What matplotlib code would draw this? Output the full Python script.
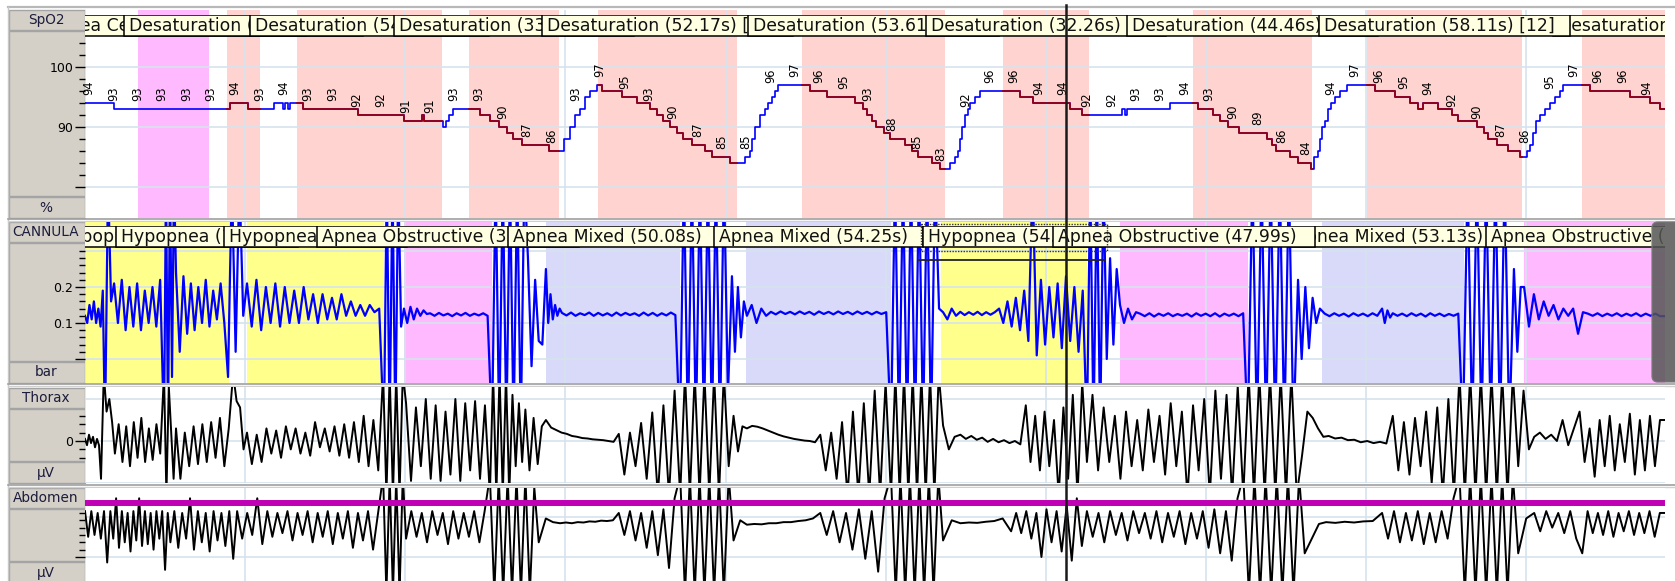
import numpy as np
import matplotlib.pyplot as plt
from matplotlib.patches import Rectangle, FancyBboxPatch
from matplotlib.textpath import TextPath
from matplotlib.font_manager import FontProperties

plt.rcParams['font.family'] = ['DejaVu Sans']

# ---------------- data ----------------
window_s = 592.0          # seconds shown, grid every 60 s
cursor_t = 367.6

# SpO2 step trace: change times (s) and values (%)
spo2_t = [0, 10.9, 54.3, 61.1, 70.8, 74.2, 74.9, 76.1, 76.8, 81.7,
          102.3, 119.5, 126.3, 127.0, 134.1, 135.2, 136.3, 137.9, 148.0, 151.7,
          155.1, 158.1, 160.4, 163.7, 173.8, 179.5, 181.7, 183.6, 185.5, 187.3,
          189.2, 191.8, 193.7, 201.2, 206.8, 211.7, 214.3, 216.6, 219.2, 221.8,
          224.1, 227.4, 232.3, 234.9, 241.7, 247.3, 249.2, 249.9, 251.0, 252.9,
          254.8, 255.9, 257.4, 258.5, 259.6, 271.6, 278.0, 288.5, 291.5, 293.0,
          294.9, 296.4, 299.4, 301.6, 307.2, 309.9, 312.1, 317.3, 320.3, 324.1,
          326.0, 327.1, 327.8, 328.6, 329.7, 330.8, 331.6, 333.5, 335.3, 350.3,
          355.2, 369.0, 373.5, 388.5, 389.7, 390.4, 406.5, 417.0, 422.6, 425.2,
          428.2, 432.4, 442.9, 444.7, 446.2, 451.5, 454.5, 459.3, 460.5, 462.0,
          462.7, 463.5, 464.6, 465.7, 466.8, 468.3, 470.2, 472.8, 483.3, 490.8,
          496.4, 499.4, 501.3, 506.9, 512.2, 514.4, 521.5, 524.2, 525.7, 529.1,
          533.2, 537.7, 540.3, 541.5, 542.6, 543.7, 545.2, 547.1, 549.0, 550.8,
          552.7, 553.8, 564.0, 579.0, 586.5, 590.3]
spo2_v = [94, 93, 94, 93, 94, 93, 94, 93, 94, 93,
          92, 91, 92, 91, 90, 91, 92, 93, 92, 91,
          90, 89, 88, 87, 86, 88, 90, 92, 93, 95,
          96, 97, 96, 95, 94, 93, 92, 91, 90, 89,
          88, 87, 86, 85, 84, 85, 86, 88, 90, 92,
          93, 94, 95, 96, 97, 96, 95, 94, 93, 92,
          91, 90, 89, 88, 87, 86, 85, 84, 83, 84,
          85, 86, 88, 90, 92, 93, 94, 95, 96, 95,
          94, 93, 92, 93, 92, 93, 94, 93, 92, 91,
          90, 89, 88, 87, 86, 85, 84, 83, 85, 86,
          88, 90, 91, 93, 94, 95, 96, 97, 96, 95,
          94, 93, 94, 93, 92, 91, 90, 89, 88, 87,
          86, 85, 86, 87, 89, 91, 92, 93, 94, 95,
          96, 97, 96, 95, 94, 93]

# numbers printed over the SpO2 trace, one every 9.12 s
spo2_label_start = 1.5
spo2_label_step = 9.12
spo2_label_vals = [94, 93, 93, 93, 93, 93, 94, 93, 94, 93, 93, 92, 92, 91, 91,
                   93, 93, 90, 87, 86, 93, 97, 95, 93, 90, 87, 85, 85, 96, 97,
                   96, 95, 93, 88, 85, 83, 92, 96, 96, 94, 94, 92, 92, 93, 93,
                   94, 93, 90, 89, 86, 84, 94, 97, 96, 95, 94, 92, 90, 87, 86,
                   95, 97, 96, 96, 94]

# scored events, SpO2 row (the bracket holds the drop in %)
spo2_ev_type = ["Apnea Central"] + ["Desaturation"] * 9
spo2_ev_start = [19.9, 53.2, 79.4, 143.9, 192.2, 268.6, 343.9, 415.1, 480.3, 560.9]
spo2_ev_dur = [26.62, 12.41, 54.38, 33.72, 52.17, 53.61, 32.26, 44.46, 58.11, 72.20]
spo2_ev_tag = [10, 1, 3, 7, 13, 14, 4, 11, 12, 10]
spo2_ev_raised = [8]

# scored events, CANNULA row
cann_ev_type = ["Hypopnea", "Hypopnea", "Hypopnea", "Apnea Obstructive", "Apnea Mixed",
                "Apnea Mixed", "Hypopnea", "Apnea Obstructive", "Apnea Mixed",
                "Apnea Obstructive"]
cann_ev_start = [-10.0, 37.5, 60.7, 119.5, 172.7, 247.7, 320.7, 387.8, 463.5, 539.2]
cann_ev_dur = [64.00, 16.10, 51.30, 33.04, 50.08, 54.25, 54.71, 47.99, 53.13, 69.62]
cann_ev_raised = [7]
cann_ev_selected = 6

# waveforms: (start s, end s, successive values)
cannula_segments = [
    (0.0, 7.5, [0.12, 0.10, 0.15, 0.11, 0.16, 0.10, 0.14, 0.09, 0.19]),
    (7.5, 10.9, [-0.2, 0.5, 0.16]),
    (10.9, 29.6, [0.21, 0.10, 0.22, 0.08, 0.20, 0.09, 0.21, 0.08, 0.19, 0.10, 0.20, 0.09, 0.22]),
    (29.6, 34.1, [-0.2, 0.5, -0.2, 0.5, -0.05, 0.5]),
    (34.1, 53.6, [0.24, 0.02, 0.23, 0.07, 0.21, 0.08, 0.20, 0.10, 0.22, 0.09, 0.19, 0.11, 0.21, 0.10]),
    (53.6, 60.7, [-0.05, 0.5, 0.02, 0.5, 0.12]),
    (60.7, 112.0, [0.21, 0.09, 0.22, 0.08, 0.20, 0.10, 0.21, 0.09, 0.20, 0.10, 0.19, 0.10,
                   0.20, 0.11, 0.18, 0.10, 0.18, 0.11, 0.17, 0.11, 0.18, 0.12, 0.16, 0.12,
                   0.15, 0.12, 0.15, 0.13, 0.14]),
    (112.0, 119.5, [-0.2, 0.5, -0.2, 0.5, -0.2, 0.5, 0.09]),
    (119.5, 129.3, [0.14, 0.10, 0.145, 0.11, 0.14, 0.12, 0.135, 0.125]),
    (129.3, 152.5, [0.127, 0.12, 0.128, 0.121, 0.126, 0.119, 0.127, 0.121, 0.128, 0.12,
                    0.126, 0.121, 0.127, 0.12]),
    (152.5, 172.7, [-0.2, 0.5, -0.2, 0.5, -0.2, 0.5, -0.2, 0.5, -0.2, 0.5, 0.28, -0.02, 0.22, 0.05, 0.04]),
    (172.7, 178.7, [0.25, 0.10, 0.18, 0.11, 0.15, 0.12, 0.14]),
    (178.7, 222.9, [0.128, 0.121, 0.129, 0.12, 0.127, 0.122, 0.129, 0.12, 0.128, 0.121,
                    0.127, 0.12, 0.129, 0.121, 0.128, 0.122, 0.127, 0.12, 0.129, 0.121,
                    0.128, 0.12, 0.127, 0.121, 0.129, 0.122]),
    (222.9, 242.4, [-0.2, 0.5, -0.2, 0.5, -0.2, 0.5, -0.2, 0.5, -0.2, 0.5, -0.2, 0.5, -0.1]),
    (242.4, 248.0, [0.23, 0.02, 0.20, 0.06, 0.16]),
    (248.0, 302.0, [0.12, 0.15, 0.10, 0.14, 0.12, 0.131, 0.124, 0.132, 0.125, 0.131, 0.124,
                    0.132, 0.125, 0.131, 0.123, 0.132, 0.125, 0.131, 0.124, 0.132, 0.125,
                    0.131, 0.124, 0.132, 0.125, 0.131, 0.124, 0.131, 0.125, 0.13]),
    (302.0, 321.5, [-0.2, 0.5, -0.2, 0.5, -0.2, 0.5, -0.2, 0.5, -0.2, 0.5, -0.2, 0.5, 0.14]),
    (321.5, 342.5, [0.13, 0.11, 0.14, 0.12, 0.131, 0.122, 0.13, 0.123, 0.131, 0.122,
                    0.13, 0.123, 0.13]),
    (342.5, 375.4, [0.14, 0.10, 0.16, 0.09, 0.17, 0.08, 0.19, 0.05, 0.5, 0.01, 0.22, 0.04,
                    0.20, 0.06, 0.21, 0.03, 0.23, 0.05, 0.20, 0.02, 0.19]),
    (375.4, 387.8, [-0.2, 0.5, -0.2, 0.5, -0.2, 0.5, 0.0, 0.28, 0.04, 0.25]),
    (387.8, 395.3, [0.15, 0.10, 0.14, 0.11, 0.13]),
    (395.3, 435.7, [0.126, 0.119, 0.127, 0.118, 0.126, 0.12, 0.127, 0.119, 0.125, 0.12,
                    0.126, 0.118, 0.127, 0.12, 0.126, 0.119, 0.127, 0.118, 0.126, 0.12,
                    0.126, 0.119, 0.127]),
    (435.7, 454.5, [-0.2, 0.5, -0.2, 0.5, -0.2, 0.5, -0.2, 0.5, -0.2, 0.5, -0.2]),
    (454.5, 462.7, [0.22, 0.0, 0.20, 0.03, 0.17, 0.10]),
    (462.7, 486.0, [0.14, 0.126, 0.119, 0.127, 0.12, 0.126, 0.118, 0.127, 0.12, 0.126,
                    0.119, 0.127, 0.12]),
    (486.0, 490.0, [0.14, 0.10, 0.135, 0.115]),
    (490.0, 516.3, [0.127, 0.12, 0.126, 0.119, 0.127, 0.12, 0.126, 0.118, 0.127, 0.12,
                    0.126, 0.119, 0.125, 0.12, 0.126]),
    (516.3, 535.4, [-0.2, 0.5, -0.2, 0.5, -0.2, 0.5, -0.2, 0.5, -0.2, 0.5, -0.2]),
    (535.4, 539.2, [0.25, 0.02, 0.20]),
    (539.2, 563.1, [0.20, 0.09, 0.18, 0.11, 0.16, 0.12, 0.15, 0.11, 0.14, 0.12, 0.14, 0.07, 0.13]),
    (563.1, 592.0, [0.126, 0.12, 0.127, 0.119, 0.126, 0.12, 0.127, 0.119, 0.126, 0.12,
                    0.127, 0.119, 0.126, 0.12, 0.126, 0.119]),
]

thorax_segments = [
    (0.0, 6.0, [0.05, -0.1, 0.15, -0.05, 0.10, -0.15, 0.05, -0.1]),
    (6.0, 11.2, [-0.9, 1.6, 0.7, 1.0, 0.45]),
    (11.2, 29.6, [-0.3, 0.4, -0.5, 0.35, -0.6, 0.45, -0.4, 0.55, -0.5, 0.3, -0.45, 0.4, -0.3]),
    (29.6, 34.1, [1.6, -1.3, 1.3, 0.2, -0.9]),
    (34.1, 55.5, [0.3, -0.9, 0.2, -0.6, 0.35, -0.55, 0.4, -0.5, 0.45, -0.4, 0.55, -0.6, 0.3]),
    (55.5, 60.7, [1.6, 0.95, 0.8, -0.2]),
    (60.7, 111.7, [0.2, -0.55, 0.15, -0.5, 0.3, -0.3, 0.25, -0.4, 0.35, -0.2, 0.3, -0.3, 0.2,
                   -0.35, 0.45, -0.15, 0.3, -0.25, 0.35, -0.35, 0.4, -0.4, 0.45, -0.5, 0.6,
                   -0.6, 0.5, -0.7]),
    (111.7, 120.3, [1.6, -1.3, 1.6, -1.3, 1.6, -1.3, 1.6]),
    (120.3, 151.7, [0.9, -0.95, 0.8, -0.6, 1.0, -0.9, 0.85, -0.95, 0.7, -0.8, 1.0, -0.95, 0.9,
                    -0.7, 0.95, -0.9, 0.85]),
    (151.7, 165.0, [-1.3, 1.6, -1.3, 1.6, -1.3, 1.6, -1.3, 1.1, -0.6, 0.9, -0.5]),
    (165.0, 172.7, [0.75, -0.7, 0.55, -0.55, 0.35]),
    (172.7, 200.0, [0.5, 0.32, 0.26, 0.2, 0.17, 0.12, 0.1, 0.07, 0.06, 0.04, 0.03, 0.02, 0.0, -0.02]),
    (200.0, 223.0, [0.17, -0.8, 0.2, -0.6, 0.43, -0.9, 0.68, -1.3, 0.85, -1.3, 1.2]),
    (223.0, 243.0, [-1.3, 1.6, -1.3, 1.6, -1.3, 1.6, -1.3, 1.6, -1.3, 1.6, -0.6]),
    (243.0, 248.0, [0.6, -0.25, 0.35]),
    (248.0, 275.5, [0.3, 0.36, 0.34, 0.3, 0.25, 0.2, 0.15, 0.11, 0.08, 0.05, 0.03, 0.01, 0.0, -0.03]),
    (275.5, 302.0, [0.15, -0.7, 0.2, -0.9, 0.45, -1.3, 0.7, -1.3, 0.9, -1.3, 1.2, -1.3, 1.4]),
    (302.0, 321.5, [-1.3, 1.6, -1.3, 1.6, -1.3, 1.6, -1.3, 1.6, -1.3, 1.6, -1.3, 1.6]),
    (321.5, 328.0, [0.37, -0.2, 0.1]),
    (328.0, 352.5, [0.15, 0.05, 0.12, 0.03, 0.08, -0.02, 0.05, -0.03, 0.02, -0.05, 0.0, -0.08]),
    (352.5, 375.4, [0.85, -0.5, 0.6, -0.7, 0.7, -0.6, 0.5, -1.3, 0.8, -0.9, 1.1, -1.3, 1.4]),
    (375.4, 434.0, [-0.5, 1.1, -0.7, 0.8, -0.5, 0.6, -0.9, 0.7, -0.6, 0.5, -0.7, 0.75, -0.5,
                    0.6, -0.8, 0.9, -0.6, 0.7, -1.3, 0.85, -0.7, 1.0, -1.3, 1.2, -0.9, 1.1,
                    -1.3, 1.3]),
    (434.0, 456.0, [-1.3, 1.6, -1.3, 1.6, -1.3, 1.6, -1.3, 1.6, -1.3, 1.6, -1.3]),
    (456.0, 466.0, [-0.35, 0.7, 0.55, 0.3, 0.1]),
    (466.0, 490.0, [0.12, 0.06, 0.08, 0.02, 0.03, -0.03, 0.0, -0.05, -0.02, -0.06]),
    (490.0, 515.0, [0.6, -0.7, 0.45, -0.8, 0.55, -0.6, 0.7, -1.0, 0.8, -1.3, 1.0, -1.3]),
    (515.0, 539.0, [1.6, -1.3, 1.6, -1.3, 1.6, -1.3, 1.6, -1.3, 1.6, -1.3, 1.6, -0.6]),
    (539.0, 543.0, [1.2, -0.2]),
    (543.0, 560.0, [0.1, 0.2, 0.05, 0.15, 0.0, 0.5, -0.1, 0.3]),
    (560.0, 592.0, [0.7, -0.5, 0.3, -0.85, 0.5, -0.6, 0.6, -0.7, 0.4, -0.5, 0.65, -0.8, 0.5,
                    -0.7, 0.6, -0.6, 0.5]),
]

abdomen_segments = [
    (0.0, 9.5, [0.25, -0.45, 0.25, -0.4, 0.2, -0.5, 0.25, -1.15]),
    (9.5, 30.0, [0.25, -0.5, 0.6, -0.75, 0.25, -0.6, 0.2, -0.85, 0.25, -0.55, 0.6, -0.7, 0.25,
                 -0.65, 0.2, -0.8, 0.25, -0.5, 0.25]),
    (30.0, 32.0, [-1.35, 0.2]),
    (32.0, 57.0, [-0.6, 0.25, -0.75, 0.2, -0.5, 0.6, -0.8, 0.25, -0.6, 0.2, -0.85, 0.25, -0.55,
                  0.2, -0.7, 0.25, -1.05]),
    (57.0, 111.7, [0.25, -0.5, 0.2, -0.4, 0.6, -0.65, 0.25, -0.45, 0.2, -0.35, 0.25, -0.55, 0.2,
                   -0.4, 0.25, -0.6, 0.2, -0.45, 0.25, -0.65, 0.2, -0.5, 0.25, -0.75, 0.2,
                   -0.55, 0.25, -0.8, 0.2]),
    (111.7, 120.3, [1.2, -2.0, 1.2, -2.0, 1.2, -2.0, 1.2]),
    (120.3, 151.7, [-0.5, 0.25, -0.45, 0.2, -0.6, 0.25, -0.4, 0.2, -0.65, 0.25, -0.5, 0.2,
                    -0.45, 0.25, -0.6, 0.25]),
    (151.7, 170.0, [1.2, -2.0, 1.2, -2.0, 1.2, -2.0, 1.2, -2.0, 1.2, -2.0, 0.9]),
    (170.0, 178.0, [-0.6, 0.05, -0.05]),
    (178.0, 200.0, [-0.08, -0.06, -0.08, -0.05, -0.06, -0.03, -0.04, -0.01, -0.02, 0.0]),
    (200.0, 223.0, [0.2, -0.4, 0.25, -0.55, 0.2, -0.75, 0.25, -0.95, 0.3, -1.3, 0.6]),
    (223.0, 243.0, [1.2, -2.0, 1.2, -2.0, 1.2, -2.0, 1.2, -2.0, 1.2, -2.0, 1.2]),
    (243.0, 248.0, [-0.55, 0.0]),
    (248.0, 275.5, [-0.12, -0.1, -0.11, -0.08, -0.08, -0.05, -0.05, -0.02, 0.0, 0.05]),
    (275.5, 302.0, [0.2, -0.4, 0.25, -0.6, 0.2, -0.8, 0.3, -1.05, 0.25, -1.4, 0.6]),
    (302.0, 321.5, [1.2, -2.0, 1.2, -2.0, 1.2, -2.0, 1.2, -2.0, 1.2, -2.0, 1.2]),
    (321.5, 328.0, [-0.55, 0.0]),
    (328.0, 347.0, [-0.08, -0.06, -0.07, -0.04, -0.02, 0.05]),
    (347.0, 375.4, [-0.3, 0.2, -0.35, 0.25, -0.5, 0.2, -1.0, 0.3, -0.6, 0.25, -0.85, 0.4, -1.1,
                    0.6, -0.7]),
    (375.4, 434.0, [0.25, -0.45, 0.2, -0.6, 0.25, -0.4, 0.2, -0.55, 0.25, -0.35, 0.2, -0.5,
                    0.25, -0.6, 0.2, -0.45, 0.25, -0.65, 0.2, -0.5, 0.25, -0.75, 0.3, -0.9,
                    0.25, -1.1, 0.6]),
    (434.0, 457.0, [1.2, -2.0, 1.2, -2.0, 1.2, -2.0, 1.2, -2.0, 1.2, -2.0, 1.2]),
    (457.0, 465.0, [-0.9, -0.5, -0.1]),
    (465.0, 486.0, [-0.05, -0.07, -0.04, -0.06, -0.03, -0.02]),
    (486.0, 515.0, [0.2, -0.5, 0.25, -0.6, 0.2, -0.55, 0.25, -0.65, 0.2, -0.6, 0.25, -0.5, 0.6]),
    (515.0, 537.0, [1.2, -2.0, 1.2, -2.0, 1.2, -2.0, 1.2, -2.0, 1.2, -2.0, 1.2]),
    (537.0, 543.0, [-0.9, 0.05]),
    (543.0, 561.0, [0.2, -0.3, 0.25, -0.2, 0.2, -0.35, 0.25, -0.5]),
    (561.0, 563.0, [-0.9]),
    (563.0, 592.0, [0.25, -0.35, 0.2, -0.4, 0.25, -0.45, 0.2, -0.3, 0.25, -0.4, 0.2, -0.35,
                    0.25, -0.45, 0.2]),
]
abdomen_marker_level = 0.47

# ---------------- styling / layout ----------------
ev_colors = {"Desaturation": "#FFD4D0", "Hypopnea": "#FFFF8C",
             "Apnea Obstructive": "#FFB9FF", "Apnea Central": "#FFB9FF",
             "Apnea Mixed": "#D9D9F9"}
grid_c = "#D5E3EE"
panel_c = "#D4D0C8"

W, H = 1675, 581
X0, X1 = 85, 1665
PXS = (X1 - X0) / window_s

fig = plt.figure(figsize=(W / 100, H / 100), dpi=100)
fig.patch.set_facecolor("white")


def rect(x0, y0, x1, y1):
    return [x0 / W, 1 - y1 / H, (x1 - x0) / W, (y1 - y0) / H]


def px(t):
    return X0 + t * PXS


def build(segments):
    ts, vs = [], []
    for t0, t1, vals in segments:
        ts.extend(np.linspace(t0, t1, len(vals), endpoint=False))
        vs.extend(vals)
    ts.append(window_s)
    vs.append(vs[-1])
    return np.array(ts), np.array(vs)


# background chrome (label column, separators)
bg = fig.add_axes([0, 0, 1, 1], zorder=-5)
bg.set_xlim(0, W)
bg.set_ylim(H, 0)
bg.axis("off")

panels = [("SpO2", "%", 10, 218), ("CANNULA", "bar", 222, 383),
          ("Thorax", "\u03bcV", 388, 483), ("Abdomen", "\u03bcV", 488, 583)]
for name, unit, y0, y1 in panels:
    for a, b in [(y0, y0 + 20), (y0 + 21, y1 - 22), (y1 - 21, y1)]:
        bg.add_patch(Rectangle((9, a), 76, b - a, fc=panel_c, ec="#A4A4A4", lw=1))
    bg.text(46, y0 + 10, name, ha="center", va="center", fontsize=9.8, color="#1c1c3c")
    bg.text(46, y1 - 10.5, unit, ha="center", va="center", fontsize=9.8, color="#1c1c3c")
bg.plot([8, W], [7, 7], color="#B8B8B8", lw=1.6)
bg.plot([8, 8], [7, H], color="#C8C8C8", lw=1)
for y in [219.5, 385, 485.5]:
    bg.plot([8, W], [y - 1, y - 1], color="#A0A0A0", lw=1.2)
    bg.plot([8, W], [y + 1, y + 1], color="#D0D0D0", lw=1)


def make_panel(y0, y1, ylim, grid_y, major, minor, labels):
    ax = fig.add_axes(rect(X0, y0, X1, y1))
    ax.set_xlim(0, window_s)
    ax.set_ylim(*ylim)
    ax.set_facecolor("white")
    for s in ax.spines.values():
        s.set_visible(False)
    ax.set_xticks([])
    ax.set_yticks(major)
    ax.set_yticklabels(labels)
    ax.set_yticks(minor, minor=True)
    ax.tick_params(axis="y", which="major", length=7.5, width=1, pad=1, labelsize=9)
    ax.tick_params(axis="y", which="minor", length=4.5, width=1)
    for g in np.arange(0, window_s, 60):
        ax.axvline(g, color=grid_c, lw=1.2, zorder=1)
    for g in grid_y:
        ax.axhline(g, color=grid_c, lw=1.2, zorder=1)
    return ax


ax_spo2 = make_panel(10, 218, (74.83, 109.5), [80, 90, 100], [80, 90, 100],
                     np.arange(80, 105, 2), ["", "90", "100"])
ax_can = make_panel(222, 383, (-0.0667, 0.3806), [0, 0.1, 0.2, 0.3], [0, 0.1, 0.2],
                    np.arange(0, 0.31, 0.02), ["", "0.1", "0.2"])
ax_tho = make_panel(387, 483, (-1.0, 1.286), [-1, 0, 1], [0],
                    np.arange(-0.4, 0.61, 0.2), ["0"])
ax_abd = make_panel(488, 581, (-1.654, 0.88), [0.09, -1.0], [-1.0],
                    np.arange(-1.0, 0.21, 0.2), [""])

# event shading
for ty, s, d in zip(spo2_ev_type, spo2_ev_start, spo2_ev_dur):
    ax_spo2.axvspan(s, s + d, color=ev_colors[ty], lw=0, zorder=0.5)
for ty, s, d in zip(cann_ev_type, cann_ev_start, cann_ev_dur):
    ax_can.axvspan(s, s + d, color=ev_colors[ty], lw=0, zorder=0.5)

# SpO2 trace: blue, dark red inside desaturations
st = np.append(spo2_t, window_s)
sv = np.append(spo2_v, spo2_v[-1])
ax_spo2.plot(st, sv, drawstyle="steps-post", color="#0000FF", lw=1.2, zorder=3)
for ty, s, d in zip(spo2_ev_type, spo2_ev_start, spo2_ev_dur):
    if ty != "Desaturation":
        continue
    e = min(s + d, window_s)
    inside = (st > s) & (st < e)
    v0 = sv[np.searchsorted(st, s, side="right") - 1]
    tt = np.concatenate([[s], st[inside], [e]])
    vin = sv[inside]
    vv = np.concatenate([[v0], vin, [vin[-1] if len(vin) else v0]])
    ax_spo2.plot(tt, vv, drawstyle="steps-post", color="#A00000", lw=1.2, zorder=4)

for i, v in enumerate(spo2_label_vals):
    ax_spo2.annotate(str(v), (spo2_label_start + i * spo2_label_step, v),
                     xytext=(0, 5.5), textcoords="offset points", rotation=90,
                     ha="center", va="bottom", fontsize=8.3, zorder=5)

# signals
t, v = build(cannula_segments)
ax_can.plot(t, v, color="#0000FF", lw=1.6, zorder=3)
t, v = build(thorax_segments)
ax_tho.plot(t, v, color="black", lw=1.4, zorder=3)
t, v = build(abdomen_segments)
ax_abd.plot(t, v, color="black", lw=1.4, zorder=3)
ax_abd.axhline(abdomen_marker_level, color="#C000B4", lw=4.3, zorder=4)

# event label boxes
fp = FontProperties(family="DejaVu Sans")
FS = 12.4


def text_width_s(s):
    w_pt = TextPath((0, 0), s, size=FS, prop=fp).get_extents().width
    return (w_pt * 100 / 72 * 1.065 + 10) / PXS


def event_bar(y0, y1, labels, starts, durs, raised):
    axe = fig.add_axes(rect(X0, y0, X1, y1))
    axe.set_xlim(0, window_s)
    axe.set_ylim(0, 1)
    axe.axis("off")
    axe.patch.set_alpha(0)
    for i, (label, s, d) in enumerate(zip(labels, starts, durs)):
        w = text_width_s(label)
        left = s + d / 2 - w / 2
        z = 50 + 2 * i if i in raised else 2 + 2 * i
        axe.add_patch(Rectangle((left, 0.03), w, 0.94, fc="#FFFFE1", ec="black",
                                lw=1.1, zorder=z, clip_on=True))
        axe.text(left + 5 / PXS, 0.47, label, ha="left", va="center", fontsize=FS,
                 zorder=z + 1, clip_on=True, color="#111111")
    return axe


spo2_labels = [f"{ty} ({d:.2f}s) [{n}]" for ty, d, n in zip(spo2_ev_type, spo2_ev_dur, spo2_ev_tag)]
cann_labels = [f"{ty} ({d:.2f}s)" for ty, d in zip(cann_ev_type, cann_ev_dur)]
event_bar(14.5, 36.5, spo2_labels, spo2_ev_start, spo2_ev_dur, spo2_ev_raised)
event_bar(225.5, 247.5, cann_labels, cann_ev_start, cann_ev_dur, cann_ev_raised)

# foreground: selection, cursor, scroll handle
fg = fig.add_axes([0, 0, 1, 1], zorder=20)
fg.set_xlim(0, W)
fg.set_ylim(H, 0)
fg.axis("off")
fg.patch.set_alpha(0)
sel_s = cann_ev_start[cann_ev_selected] - 7.5
sel_e = cann_ev_start[cann_ev_selected] + cann_ev_dur[cann_ev_selected] + 7.5
fg.add_patch(Rectangle((px(sel_s), 223.5), px(sel_e) - px(sel_s), 27,
                       fill=False, ec="#333333", lw=1, ls=(0, (1, 1))))
fg.plot([px(sel_s) - 2, px(sel_e) - 2], [260, 260], color="#222222", lw=1.3)
fg.plot([px(cursor_t), px(cursor_t)], [5, H], color="#1A1A1A", lw=1.8)
fg.add_patch(FancyBboxPatch((1652, 222), 40, 160, boxstyle="round,pad=0,rounding_size=6",
                            fc="#555555", ec="#777777", lw=1, alpha=0.85))

fig.savefig("out.png", dpi=100, facecolor="white")
